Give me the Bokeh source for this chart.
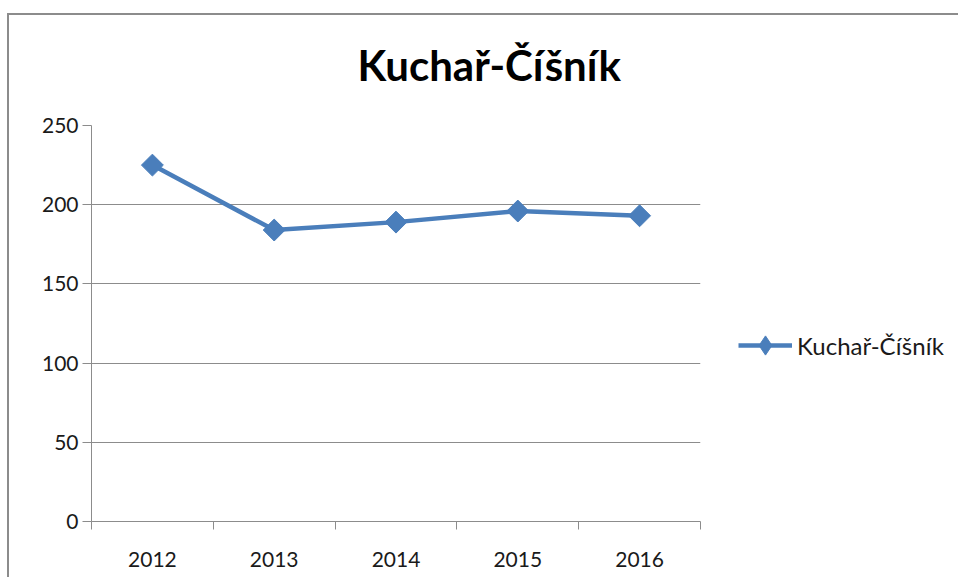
import math
from bokeh.plotting import figure
from bokeh.models import FixedTicker, Range1d, Legend, LegendItem, Title
from bokeh.embed import file_html
from bokeh.resources import INLINE

years = [2012, 2013, 2014, 2015, 2016]
year_labels = ["2012", "2013", "2014", "2015", "2016"]
values = [225, 184, 189, 196, 193]
y_ticks = [0, 50, 100, 150, 200, 250]
series_name = "Kuchař-Číšník"
title_text = "Kuchař-Číšník"

FONT = "Lato"
BLUE = "#4A7EBB"
GRID = "#8C8C8C"
TEXT = "#1a1a1a"

p = figure(width=956, height=577, output_backend="svg", toolbar_location=None,
           x_range=Range1d(2011.5, 2016.5), y_range=Range1d(0, 250),
           frame_width=609, frame_height=396,
           min_border_left=91, min_border_top=125, min_border_right=256, min_border_bottom=56)
p.outline_line_color = None
p.background_fill_color = "white"
p.border_fill_alpha = 0
# chart-area border (left and top edges) painted behind the transparent canvas
p.styles = {
    "background-color": "white",
    "background-image": "linear-gradient(#8c8c8c, #8c8c8c), linear-gradient(#8c8c8c, #8c8c8c)",
    "background-size": "100% 2px, 2px 100%",
    "background-position": "7px 13px, 7px 13px",
    "background-repeat": "no-repeat",
}

t = Title(text=title_text, align="left", vertical_align="top", offset=266, text_font=FONT,
          text_font_style="bold", text_font_size="42px", text_color="#000000", standoff=67)
p.add_layout(t, "above")

p.xgrid.grid_line_color = None
p.ygrid.grid_line_color = GRID
p.ygrid.grid_line_width = 1
p.ygrid.ticker = FixedTicker(ticks=y_ticks)

p.yaxis.ticker = FixedTicker(ticks=y_ticks, minor_ticks=[])
p.yaxis.axis_line_color = GRID
p.yaxis.major_tick_line_color = GRID
p.yaxis.major_tick_out = 9
p.yaxis.major_tick_in = 0
p.yaxis.minor_tick_line_color = None
p.yaxis.major_label_text_font = FONT
p.yaxis.major_label_text_font_size = "21px"
p.yaxis.major_label_text_color = TEXT
p.yaxis.major_label_standoff = 4

p.xaxis.ticker = FixedTicker(ticks=years, minor_ticks=[y - 0.5 for y in years] + [years[-1] + 0.5])
p.xaxis.major_label_overrides = {y: l for y, l in zip(years, year_labels)}
p.xaxis.axis_line_color = GRID
p.xaxis.major_tick_line_color = None
p.xaxis.major_tick_out = 0
p.xaxis.major_tick_in = 0
p.xaxis.minor_tick_line_color = GRID
p.xaxis.minor_tick_out = 8
p.xaxis.minor_tick_in = 0
p.xaxis.major_label_text_font = FONT
p.xaxis.major_label_text_font_size = "21px"
p.xaxis.major_label_text_color = TEXT
p.xaxis.major_label_standoff = 22

ln = p.line(years, values, line_color=BLUE, line_width=4.5)
# diamond used for the legend swatch; it lies fully under the rotated squares in the plot
mk_leg = p.scatter(years, values, marker="diamond", size=19, fill_color=BLUE, line_color=BLUE)
mk = p.scatter(years, values, marker="square", angle=math.pi / 4, size=15.5,
               fill_color=BLUE, line_color=BLUE)

legend = Legend(items=[LegendItem(label=series_name, renderers=[ln, mk_leg])],
                location=(38, 152), glyph_width=54, glyph_height=48, label_standoff=5,
                padding=0, margin=0, border_line_color=None, background_fill_alpha=0,
                label_text_font=FONT, label_text_font_size="24px", label_text_color=TEXT)
p.add_layout(legend, "right")

open("out.html", "w").write(file_html(p, INLINE))
